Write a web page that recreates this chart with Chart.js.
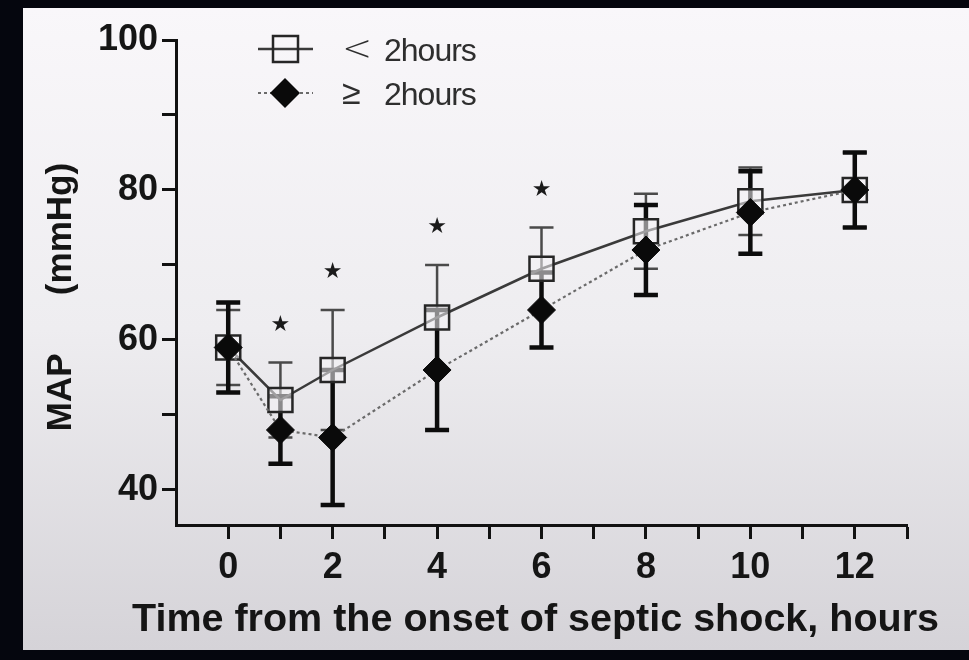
<!DOCTYPE html>
<html>
<head>
<meta charset="utf-8">
<script src="https://cdn.jsdelivr.net/npm/chart.js@4"></script>
<style>
  html, body { margin: 0; padding: 0; background: #05060e; }
  #painel {
    position: absolute; left: 23px; top: 8px; width: 946px; height: 642px;
    background: linear-gradient(#f9f7fa, #eeedf0 50%, #d5d3d8);
  }
  #grafico { position: absolute; left: 0; top: 0; }
</style>
</head>
<body>
<div id="painel"></div>
<canvas id="grafico" width="969" height="660"></canvas>
<script>
// horas desde o início do choque séptico
const horas = [0, 1, 2, 4, 6, 8, 10, 12];
// PAM (mmHg) – grupo < 2 horas
const mapMenos2h = [59, 52, 56, 63, 69.5, 74.5, 78.5, 80];
const dpMenos2h = [5, 5, 8, 7, 5.5, 5, 4.5, 5];
// PAM (mmHg) – grupo ≥ 2 horas
const mapMais2h = [59, 48, 47, 56, 64, 72, 77, 80];
const dpMais2h = [6, 4.5, 9, 8, 5, 6, 5.5, 5];
// horas com diferença significativa (*)
const horasSignificativas = [1, 2, 4, 6];
const ticksX = [0, 1, 2, 3, 4, 5, 6, 7, 8, 9, 10, 11, 12, 13];
const ticksY = [40, 50, 60, 70, 80, 90, 100];
const tituloX = "Time from the onset of septic shock, hours";

const FONTE = "'Liberation Sans', Arial, sans-serif";

function pontos(ys) {
  return horas.map((h, i) => ({ x: h, y: ys[i] }));
}

// barras de desvio padrão, desenhadas antes das linhas e marcadores
const barrasErro = {
  id: "barrasErro",
  beforeDatasetsDraw(chart) {
    const ctx = chart.ctx;
    const escalaY = chart.scales.y;
    chart.data.datasets.forEach((ds, d) => {
      const meta = chart.getDatasetMeta(d);
      ctx.save();
      ctx.strokeStyle = ds.corBarra;
      ctx.lineWidth = ds.larguraBarra;
      meta.data.forEach((p, i) => {
        const v = ds.data[i].y;
        const topo = escalaY.getPixelForValue(v + ds.erros[i]);
        const base = escalaY.getPixelForValue(v - ds.erros[i]);
        ctx.beginPath();
        ctx.moveTo(p.x, topo);
        ctx.lineTo(p.x, base);
        ctx.moveTo(p.x - 12, topo);
        ctx.lineTo(p.x + 12, topo);
        ctx.moveTo(p.x - 12, base);
        ctx.lineTo(p.x + 12, base);
        ctx.stroke();
      });
      ctx.restore();
    });
  },
};

// asteriscos acima da barra superior do grupo < 2 horas
const asteriscos = {
  id: "asteriscos",
  afterDatasetsDraw(chart) {
    const ctx = chart.ctx;
    ctx.save();
    ctx.fillStyle = "#1a1a1a";
    ctx.font = "22px 'DejaVu Sans'";
    ctx.textAlign = "center";
    ctx.textBaseline = "middle";
    horasSignificativas.forEach((h) => {
      const i = horas.indexOf(h);
      const px = chart.scales.x.getPixelForValue(h);
      const py = chart.scales.y.getPixelForValue(mapMenos2h[i] + dpMenos2h[i] + 5);
      ctx.fillText("★", px, py);
    });
    ctx.restore();
  },
};

// título do eixo X, mais largo que a área do gráfico
const tituloEixoX = {
  id: "tituloEixoX",
  afterDraw(chart) {
    const ctx = chart.ctx;
    const escalaX = chart.scales.x;
    ctx.save();
    ctx.fillStyle = "#151515";
    ctx.font = "bold 39.5px " + FONTE;
    ctx.textAlign = "center";
    ctx.textBaseline = "middle";
    ctx.fillText(tituloX, (escalaX.left + escalaX.right) / 2 - 6, escalaX.bottom - 30);
    ctx.restore();
  },
};

// legenda no canto superior do gráfico
const legenda = {
  id: "legenda",
  afterDraw(chart) {
    const ctx = chart.ctx;
    const linhas = [
      { ds: chart.data.datasets[0], simbolo: "<", y: 49 },
      { ds: chart.data.datasets[1], simbolo: "≥", y: 93 },
    ];
    ctx.save();
    linhas.forEach(({ ds, simbolo, y }) => {
      ctx.strokeStyle = ds.borderColor;
      ctx.lineWidth = ds.borderWidth;
      ctx.setLineDash(ds.borderDash || []);
      ctx.beginPath();
      ctx.moveTo(258, y);
      ctx.lineTo(313, y);
      ctx.stroke();
      ctx.setLineDash([]);
      ctx.strokeStyle = ds.pointBorderColor;
      ctx.lineWidth = ds.pointBorderWidth;
      ctx.beginPath();
      if (ds.pointStyle === "rect") {
        ctx.rect(273, y - 13, 25, 26);
        ctx.stroke();
      } else {
        ctx.fillStyle = ds.pointBackgroundColor;
        ctx.moveTo(285, y - 15);
        ctx.lineTo(300, y);
        ctx.lineTo(285, y + 15);
        ctx.lineTo(270, y);
        ctx.closePath();
        ctx.fill();
      }
      ctx.fillStyle = "#2e2e2e";
      ctx.textBaseline = "middle";
      ctx.font = simbolo === "<" ? "300 36px 'DejaVu Sans'" : "34px " + FONTE;
      ctx.fillText(simbolo, 342, y + 2);
      ctx.font = "32px " + FONTE;
      ctx.letterSpacing = "-1px";
      ctx.fillText(ds.label, 384, y + 3);
      ctx.letterSpacing = "0px";
    });
    ctx.restore();
  },
};

const ctx = document.getElementById("grafico").getContext("2d");

new Chart(ctx, {
  type: "line",
  data: {
    datasets: [
      {
        label: "2hours",
        data: pontos(mapMenos2h),
        erros: dpMenos2h,
        corBarra: "#4a4a4a",
        larguraBarra: 2.5,
        borderColor: "#3a3a3a",
        borderWidth: 2.5,
        pointStyle: "rect",
        pointRadius: 17,
        pointBorderWidth: 2.5,
        pointBorderColor: "#262626",
        pointBackgroundColor: "rgba(244, 243, 246, 0.55)",
        order: 1,
      },
      {
        label: "2hours",
        data: pontos(mapMais2h),
        erros: dpMais2h,
        corBarra: "#0c0c0c",
        larguraBarra: 4.5,
        borderColor: "#6a6a6a",
        borderWidth: 2.2,
        borderDash: [3, 3],
        pointStyle: "rectRot",
        pointRadius: 14,
        pointBorderWidth: 1,
        pointBorderColor: "#0a0a0a",
        pointBackgroundColor: "#0a0a0a",
        order: 0,
      },
    ],
  },
  options: {
    responsive: false,
    animation: false,
    devicePixelRatio: 1,
    layout: { padding: { left: 23, right: 62, top: 40, bottom: 10 } },
    plugins: {
      legend: { display: false },
      tooltip: { enabled: false },
    },
    scales: {
      x: {
        type: "linear",
        min: -1,
        max: 13,
        afterBuildTicks: (s) => { s.ticks = ticksX.map((v) => ({ value: v })); },
        afterFit: (s) => { s.height = 125; },
        ticks: {
          autoSkip: false,
          maxRotation: 0,
          padding: 7,
          color: "#151515",
          font: { family: FONTE, size: 36, weight: "bold" },
          callback: (v) => (v % 2 === 0 ? String(v) : ""),
        },
        grid: { drawOnChartArea: false, tickLength: 14, tickWidth: 3, tickColor: "#111" },
        border: { color: "#111", width: 3 },
      },
      y: {
        type: "linear",
        min: 35.333,
        max: 100,
        afterBuildTicks: (s) => { s.ticks = ticksY.map((v) => ({ value: v })); },
        afterFit: (s) => { s.width = 153; },
        ticks: {
          padding: 4,
          color: "#151515",
          font: { family: FONTE, size: 36, weight: "bold" },
          callback: (v) => (v % 20 === 0 ? String(v) : ""),
        },
        grid: { drawOnChartArea: false, tickLength: 14, tickWidth: 3, tickColor: "#111" },
        border: { color: "#111", width: 3 },
        title: {
          display: true,
          text: "MAP      (mmHg)   ",
          color: "#151515",
          font: { family: FONTE, size: 35, weight: "bold" },
          padding: { top: 17, bottom: 0 },
        },
      },
    },
  },
  plugins: [barrasErro, asteriscos, tituloEixoX, legenda],
});
</script>
</body>
</html>
